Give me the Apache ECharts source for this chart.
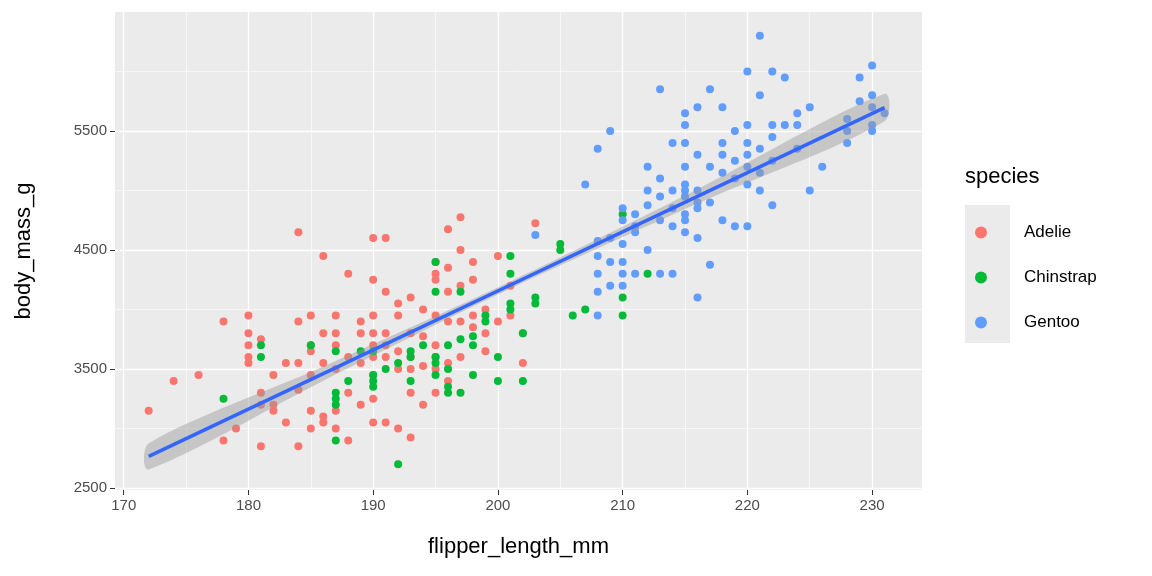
<!DOCTYPE html>
<html><head><meta charset="utf-8">
<script src="https://cdn.jsdelivr.net/npm/echarts@6/dist/echarts.min.js"></script>
<style>html,body{margin:0;background:#fff}#c{width:1152px;height:576px}</style>
</head><body><div id="c"></div>
<script>
// [flipper_length_mm, body_mass_g]
const adelie = [[172,3150],[174,3400],[176,3450],[178,3900],[178,2900],[179,3000],[180,3950],[180,3800],[180,3700],[180,3600],[180,3550],[181,3300],[181,3200],[181,2850],[181,3750],[182,3200],[182,3150],[182,3450],[183,3550],[183,3050],[184,4650],[184,3900],[184,3550],[184,2850],[184,3325],[185,3950],[185,3650],[185,3450],[185,3150],[185,3000],[186,4450],[186,3800],[186,3550],[186,3100],[186,3050],[187,3950],[187,3800],[187,3700],[187,3500],[187,3150],[188,4300],[188,3600],[188,3300],[188,2900],[189,3900],[189,3800],[189,3550],[189,3200],[190,4600],[190,4250],[190,3950],[190,3800],[190,3700],[190,3600],[190,3450],[190,3050],[190,3250],[191,4600],[191,4150],[191,3800],[191,3700],[191,3050],[192,4050],[192,3950],[192,3650],[192,3000],[192,3500],[193,4100],[193,3800],[193,3500],[193,3300],[193,2925],[194,4000],[194,3775],[194,3525],[195,4400],[195,4300],[195,4250],[195,3950],[195,3700],[195,3500],[195,3300],[196,4675],[196,4350],[196,4150],[196,3900],[196,3550],[196,3400],[197,4775],[197,4500],[197,4200],[197,3900],[197,3600],[198,4400],[198,4250],[198,3950],[199,4000],[199,3800],[200,4450],[200,3900],[201,4200],[201,3950],[202,3550],[202,3800],[203,4725],[195,3600],[191,3600],[187,3000],[198,3850],[193,3600],[199,3650],[185,3700],[194,3200]];
const chinstrap = [[178,3250],[181,3700],[181,3600],[185,3700],[187,3650],[187,3300],[187,3250],[187,3200],[187,2900],[188,3400],[189,3650],[190,3650],[190,3450],[190,3350],[190,3400],[191,3500],[192,3550],[192,2700],[193,3650],[193,3600],[193,3400],[194,3700],[195,4400],[195,4150],[195,3600],[195,3550],[195,3450],[196,3700],[196,3500],[196,3350],[196,3300],[197,4150],[197,3750],[197,3300],[198,3775],[198,3700],[198,3450],[199,3950],[199,3900],[200,3600],[200,3400],[201,4450],[201,4300],[201,4050],[201,4000],[202,3800],[202,3400],[203,4100],[203,4050],[205,4550],[205,4500],[206,3950],[207,4000],[210,4800],[210,4100],[210,3950],[212,4300]];
const gentoo = [[203,4625],[207,5050],[208,5350],[208,4575],[208,4450],[208,4300],[208,4150],[208,3950],[209,5500],[209,4600],[209,4400],[209,4200],[210,4850],[210,4750],[210,4550],[210,4400],[210,4300],[210,4200],[211,4800],[211,4700],[211,4650],[212,5200],[212,4875],[212,4500],[213,5850],[213,5100],[213,4950],[213,4750],[213,4300],[214,5000],[214,4850],[214,4700],[214,4300],[215,5650],[215,5550],[215,5400],[215,5200],[215,5050],[215,5000],[215,4950],[215,4800],[215,4750],[215,4650],[216,5000],[216,5300],[216,4900],[216,4100],[216,4600],[217,5850],[217,5200],[217,4900],[217,4375],[218,5700],[218,5400],[218,5300],[218,4750],[219,5500],[219,5250],[219,5100],[219,4700],[220,6000],[220,5550],[220,5400],[220,5300],[220,5200],[220,4700],[221,6300],[221,5800],[221,5350],[221,5150],[222,6000],[222,5550],[222,5250],[222,4875],[223,5950],[223,5550],[224,5650],[224,5550],[224,5350],[225,5700],[225,5000],[226,5200],[228,5400],[228,5500],[228,5600],[229,5950],[229,5750],[230,6050],[230,5800],[230,5700],[230,5550],[230,5500],[231,5650],[221,5000],[214,5400],[212,5000],[218,5150],[216,5700],[220,5050],[222,5450],[216,4850],[211,4300]];

// smoother fit and its band, read at a few x positions
const fitX = [172, 186, 201, 216, 231];
const fitY = [2766, 3461, 4206, 4951, 5697];
const fitHalf = [110, 60, 30, 60, 115];

const xMajor = [170, 180, 190, 200, 210, 220, 230];
const xMinor = [175, 185, 195, 205, 215, 225];
const yMajor = [2500, 3500, 4500, 5500];
const yMinor = [3000, 4000, 5000, 6000];

const grid = (vals, key, w) => vals.map(v => ({ [key]: v, lineStyle: { color: '#fff', width: w, type: 'solid' } }));

const chart = echarts.init(document.getElementById('c'));
chart.setOption({
  animation: false,
  textStyle: { fontFamily: 'Liberation Sans, Arial, sans-serif' },
  grid: { left: 115, right: 230, top: 12, bottom: 86, show: true, backgroundColor: '#EBEBEB', borderWidth: 0 },
  xAxis: {
    type: 'value', min: 169.3, max: 234,
    name: 'flipper_length_mm', nameLocation: 'middle', nameGap: 46,
    nameTextStyle: { fontSize: 22, color: '#000' },
    axisLine: { show: false }, splitLine: { show: false },
    axisTick: { show: true, customValues: xMajor, length: 5, lineStyle: { color: '#333' } },
    axisLabel: { customValues: xMajor, fontSize: 15, color: '#4D4D4D', margin: 8 }
  },
  yAxis: {
    type: 'value', min: 2483, max: 6500,
    name: 'body_mass_g', nameLocation: 'middle', nameGap: 80,
    nameTextStyle: { fontSize: 22, color: '#000' },
    axisLine: { show: false }, splitLine: { show: false },
    axisTick: { show: true, customValues: yMajor, length: 5, lineStyle: { color: '#333' } },
    axisLabel: { customValues: yMajor, fontSize: 15, color: '#4D4D4D', margin: 8, formatter: v => String(v) }
  },
  legend: {
    left: 970, top: 219, orient: 'vertical', itemGap: 28, itemWidth: 12, itemHeight: 12,
    textStyle: { fontSize: 17, color: '#000', padding: [0, 0, 0, 32] },
    data: ['Adelie', 'Chinstrap', 'Gentoo']
  },
  graphic: [
    { type: 'text', left: 965, top: 166, style: { text: 'species', fontSize: 22, fill: '#000', fontFamily: 'Liberation Sans, Arial' } },
    { type: 'rect', left: 965, top: 205, shape: { width: 45, height: 138 }, style: { fill: '#EBEBEB' }, z: -1 }
  ],
  series: [
    {
      type: 'line', data: [], silent: true, z: 0,
      markLine: { silent: true, symbol: 'none', label: { show: false }, z: 0,
        data: [...grid(xMinor, 'xAxis', 0.6), ...grid(yMinor, 'yAxis', 0.6), ...grid(xMajor, 'xAxis', 1.3), ...grid(yMajor, 'yAxis', 1.3)] }
    },
    { name: 'Adelie', type: 'scatter', data: adelie, symbolSize: 8, z: 2, itemStyle: { color: '#F8766D', opacity: 1 } },
    { name: 'Chinstrap', type: 'scatter', data: chinstrap, symbolSize: 8, z: 2, itemStyle: { color: '#00BA38', opacity: 1 } },
    { name: 'Gentoo', type: 'scatter', data: gentoo, symbolSize: 8, z: 2, itemStyle: { color: '#619CFF', opacity: 1 } },
    {
      type: 'custom', silent: true, z: 3,
      data: [0],
      renderItem: (params, api) => {
        const upper = fitX.map((x, i) => api.coord([x, fitY[i] + fitHalf[i]]));
        const lower = fitX.map((x, i) => api.coord([x, fitY[i] - fitHalf[i]])).reverse();
        return { type: 'polygon', shape: { points: upper.concat(lower), smooth: 0.3 },
          style: { fill: 'rgba(153,153,153,0.45)' } };
      }
    },
    { type: 'line', symbol: 'none', silent: true, lineStyle: { color: '#3366FF', width: 3.5 },
      data: fitX.map((x, i) => [x, fitY[i]]), z: 4 }
  ]
});
</script></body></html>
